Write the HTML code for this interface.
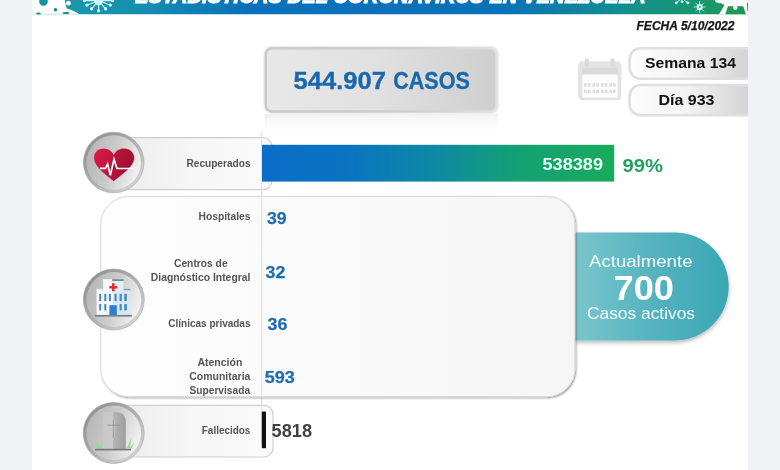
<!DOCTYPE html>
<html lang="es">
<head>
<meta charset="utf-8">
<title>Estadísticas del Coronavirus en Venezuela</title>
<style>
html,body{margin:0;padding:0;background:#f0f2f5;}
body{width:780px;height:470px;overflow:hidden;position:relative;font-family:"Liberation Sans",sans-serif;}
svg{display:block;position:absolute;left:0;top:0}
text{font-family:"Liberation Sans",sans-serif;}
.b{font-weight:bold}
.lab{font-weight:bold;font-size:10.8px;fill:#555}
.num{font-weight:bold;font-size:17px;fill:#1c6db1;stroke:#1c6db1;stroke-width:0.25px}
</style>
</head>
<body>
<svg width="780" height="470" viewBox="0 0 780 470">
<defs>
  <linearGradient id="gBanner" x1="0" x2="1" y1="0" y2="0">
    <stop offset="0" stop-color="#1c9aa8"/>
    <stop offset="0.14" stop-color="#1690ad"/>
    <stop offset="0.3" stop-color="#0a70bb"/>
    <stop offset="0.66" stop-color="#0a72b8"/>
    <stop offset="0.83" stop-color="#12908f"/>
    <stop offset="1" stop-color="#1d9a55"/>
  </linearGradient>
  <linearGradient id="gBox" x1="0" x2="1" y1="0" y2="0">
    <stop offset="0" stop-color="#e8e8e8"/>
    <stop offset="0.5" stop-color="#e0e0e0"/>
    <stop offset="1" stop-color="#cfcfcf"/>
  </linearGradient>
  <linearGradient id="gBoxS" x1="0" x2="1" y1="0" y2="0">
    <stop offset="0" stop-color="#c9c9c9"/>
    <stop offset="0.6" stop-color="#cecece"/>
    <stop offset="1" stop-color="#e0e0e0"/>
  </linearGradient>
  <linearGradient id="gRefl" x1="0" x2="0" y1="0" y2="1">
    <stop offset="0" stop-color="#e6e6e6" stop-opacity="0.55"/>
    <stop offset="1" stop-color="#ffffff" stop-opacity="0"/>
  </linearGradient>
  <linearGradient id="gPill" x1="0" x2="1" y1="0" y2="0">
    <stop offset="0" stop-color="#fdfdfd"/>
    <stop offset="0.4" stop-color="#f5f5f5"/>
    <stop offset="0.91" stop-color="#d4d4d4"/>
    <stop offset="1" stop-color="#d0d0d0"/>
  </linearGradient>
  <linearGradient id="gRow" x1="0" x2="1" y1="0" y2="0">
    <stop offset="0" stop-color="#ececec"/>
    <stop offset="0.5" stop-color="#f6f6f6"/>
    <stop offset="1" stop-color="#fbfbfb"/>
  </linearGradient>
  <linearGradient id="gBar" x1="0" x2="1" y1="0" y2="0">
    <stop offset="0" stop-color="#0a6dc8"/>
    <stop offset="0.25" stop-color="#0a74c1"/>
    <stop offset="0.5" stop-color="#0e8aa2"/>
    <stop offset="0.72" stop-color="#14a074"/>
    <stop offset="1" stop-color="#19ab5c"/>
  </linearGradient>
  <linearGradient id="gTeal" x1="0" x2="1" y1="0" y2="0">
    <stop offset="0" stop-color="#79c6cd"/>
    <stop offset="0.5" stop-color="#55b3bf"/>
    <stop offset="1" stop-color="#3aa6b4"/>
  </linearGradient>
  <linearGradient id="gRing" x1="0" x2="1" y1="0" y2="1">
    <stop offset="0" stop-color="#888888"/>
    <stop offset="0.45" stop-color="#a9a9a9"/>
    <stop offset="1" stop-color="#dedede"/>
  </linearGradient>
  <linearGradient id="gDisc" x1="0" x2="1" y1="0.35" y2="0.65">
    <stop offset="0" stop-color="#b6b6b6"/>
    <stop offset="0.48" stop-color="#cbcbcb"/>
    <stop offset="1" stop-color="#f4f4f4"/>
  </linearGradient>
  <linearGradient id="gHeart" x1="0" x2="1" y1="0" y2="0.3">
    <stop offset="0" stop-color="#e0184a"/>
    <stop offset="1" stop-color="#9c1030"/>
  </linearGradient>
  <linearGradient id="gStone" x1="0" x2="1" y1="0" y2="0">
    <stop offset="0" stop-color="#b6b6b6"/>
    <stop offset="1" stop-color="#9e9e9e"/>
  </linearGradient>
  <linearGradient id="gPanel" x1="0" x2="1" y1="0" y2="0">
    <stop offset="0" stop-color="#fefefe"/>
    <stop offset="0.5" stop-color="#fafafa"/>
    <stop offset="1" stop-color="#f5f5f5"/>
  </linearGradient>
  <filter id="sh" x="-10%" y="-10%" width="120%" height="125%">
    <feGaussianBlur in="SourceAlpha" stdDeviation="1.1"/>
    <feOffset dx="1.2" dy="1.2"/>
    <feComponentTransfer><feFuncA type="linear" slope="0.42"/></feComponentTransfer>
    <feMerge><feMergeNode/><feMergeNode in="SourceGraphic"/></feMerge>
  </filter>
  <filter id="sh2" x="-10%" y="-10%" width="120%" height="130%">
    <feGaussianBlur in="SourceAlpha" stdDeviation="2"/>
    <feOffset dx="0" dy="2"/>
    <feComponentTransfer><feFuncA type="linear" slope="0.3"/></feComponentTransfer>
    <feMerge><feMergeNode/><feMergeNode in="SourceGraphic"/></feMerge>
  </filter>
  <clipPath id="clipMain"><rect x="32" y="0" width="716" height="470"/></clipPath>
  <clipPath id="clipBanner"><rect x="32" y="0" width="716" height="14.5"/></clipPath>
</defs>

<rect x="0" y="0" width="780" height="470" fill="#f0f2f5"/>
<rect x="32" y="0" width="716" height="470" fill="#ffffff"/>

<g clip-path="url(#clipMain)">
<!-- banner -->
<g id="banner" clip-path="url(#clipBanner)">
  <rect x="32" y="0" width="716" height="14.5" fill="url(#gBanner)"/>
  <text x="135" y="3.0" class="b" font-style="italic" font-size="20" fill="#fff" stroke="#fff" stroke-width="1" textLength="510.5" lengthAdjust="spacingAndGlyphs">ESTADÍSTICAS DEL CORONAVIRUS EN VENEZUELA</text>
  <!-- left virus blob -->
  <path d="M32 0 H64.8 C65.4 3 66 6 66.6 8.4 C70 9.4 74 11 78.2 13.2 V14.5 H32 Z" fill="#fff"/><circle cx="68.4" cy="3.2" r="2.4" fill="#fff"/><circle cx="73" cy="12.4" r="1.6" fill="#fff"/>
  <circle cx="43.5" cy="1.5" r="4.3" fill="#10969c"/>
  <circle cx="55.5" cy="9.8" r="1.7" fill="#1b8a80"/>
  <ellipse cx="38.5" cy="13.6" rx="2.4" ry="1.2" fill="#1b8a80"/>
  <ellipse cx="66" cy="13" rx="3.5" ry="1" fill="#1b8a80"/>
  <!-- small virus -->
  <g stroke="#c9f6f8" stroke-width="1.2" fill="#c9f6f8" stroke-linecap="round">
    <circle cx="98.6" cy="0.6" r="4.7" stroke="none"/>
    <path d="M98.6 0.6 L98.6 10.6 M98.6 0.6 L105.4 8.6 M98.6 0.6 L91.8 8.6 M98.6 0.6 L110 5 M98.6 0.6 L87.2 5 M98.6 0.6 L112.4 0.6 M98.6 0.6 L84.8 0.6" fill="none"/>
    <circle cx="98.6" cy="10.8" r="1.1"/><circle cx="105.6" cy="8.8" r="1.1"/><circle cx="91.6" cy="8.8" r="1.1"/>
    <circle cx="110.3" cy="5.1" r="1.1"/><circle cx="86.9" cy="5.1" r="1.1"/><circle cx="112.6" cy="0.6" r="1.1"/><circle cx="84.6" cy="0.6" r="1.1"/>
  </g>
  <!-- right virus shapes -->
  <g stroke="#c9f6f8" stroke-width="1" fill="#c9f6f8" stroke-linecap="round">
    <path d="M679.8 0 L676.4 2.6 M682 0 V1.6 M684.2 0 L687.6 2.6" fill="none"/>
    <circle cx="676.2" cy="2.8" r="1"/><circle cx="682" cy="1.8" r="0.9"/><circle cx="687.8" cy="2.8" r="1"/>
    <circle cx="699.7" cy="7" r="3.1" stroke="none"/>
    <path d="M699.7 1.4 V12.6 M694.1 7 H705.3 M695.7 3 L703.7 11 M703.7 3 L695.7 11" fill="none" stroke-width="0.8"/>
    <circle cx="699.7" cy="7" r="1" fill="#3aa890" stroke="none"/>
  </g>
  <path d="M714.6 0 C715.4 2.2 718 3.6 720.6 3 L724.4 5 L719 14.5 H748 V0 Z" fill="#fff"/>
  <path d="M728 6.2 H743.2 L746 14.5 H725.2 Z" fill="#1d9751"/>
  <circle cx="735.3" cy="7.8" r="2.2" fill="#fff"/>
  <path d="M746.9 3 L748 2.4 V11.2 H747.4 Z" fill="#1d9751"/>
</g>

<!-- FECHA -->
<text x="636.5" y="30" class="b" font-style="italic" font-size="12.5" fill="#151515" stroke="#151515" stroke-width="0.25" textLength="98" lengthAdjust="spacingAndGlyphs">FECHA 5/10/2022</text>

<!-- casos box -->
<g id="casos">
  <rect x="264.6" y="114" width="233" height="20" fill="url(#gRefl)"/><rect x="264.6" y="114" width="2.2" height="18" fill="url(#gRefl)"/><rect x="495.4" y="114" width="2.2" height="18" fill="url(#gRefl)"/>
  <rect x="263.2" y="45.8" width="236" height="68.4" rx="8" fill="#efefef"/>
  <rect x="265.8" y="48.3" width="230.6" height="63.2" rx="6" fill="url(#gBox)" stroke="url(#gBoxS)" stroke-width="2.4"/>
  <text y="89.3" class="b" font-size="24" fill="#1968ae" stroke="#1968ae" stroke-width="0.35"><tspan x="293.6" textLength="92.4" lengthAdjust="spacingAndGlyphs">544.907</tspan> <tspan x="393.2" textLength="76.6" lengthAdjust="spacingAndGlyphs">CASOS</tspan></text>
</g>

<!-- calendar -->
<g id="cal">
  <rect x="578.1" y="61.3" width="43.3" height="39" rx="4.5" fill="#e3e3e3"/>
  <rect x="584.6" y="58.2" width="4.4" height="9" rx="1.8" fill="#dcdcdc"/>
  <rect x="610.2" y="58.2" width="4.4" height="9" rx="1.8" fill="#dcdcdc"/>
  <rect x="581.6" y="67.8" width="36.6" height="6.2" fill="#d9d9d9"/>
  <rect x="582.3" y="74.7" width="35.3" height="22.9" fill="#fcfcfc"/>
  <g fill="#dedede">
    <rect x="584" y="83.2" width="2.8" height="3.4"/><rect x="587.8" y="83.2" width="2.8" height="3.4"/><rect x="592.4" y="83.2" width="2.8" height="3.4"/><rect x="596.2" y="83.2" width="2.8" height="3.4"/><rect x="600.8" y="83.2" width="2.8" height="3.4"/><rect x="604.6" y="83.2" width="2.8" height="3.4"/><rect x="609.2" y="83.2" width="2.8" height="3.4"/><rect x="613" y="83.2" width="2.8" height="3.4"/>
    <rect x="584" y="89.8" width="2.8" height="3.4"/><rect x="587.8" y="89.8" width="2.8" height="3.4"/><rect x="592.4" y="89.8" width="2.8" height="3.4"/><rect x="596.2" y="89.8" width="2.8" height="3.4"/><rect x="600.8" y="89.8" width="2.8" height="3.4"/><rect x="604.6" y="89.8" width="2.8" height="3.4"/><rect x="609.2" y="89.8" width="2.8" height="3.4"/><rect x="613" y="89.8" width="2.8" height="3.4"/>
  </g>
</g>

<!-- pills semana / dia -->
<g id="pills">
  <rect x="629.6" y="48.2" width="130" height="30.6" rx="11" fill="url(#gPill)" stroke="#dfdfdf" stroke-width="2.6"/>
  <rect x="629.6" y="85" width="130" height="30.2" rx="11" fill="url(#gPill)" stroke="#dfdfdf" stroke-width="2.6"/>
  <text x="645" y="67.8" class="b" font-size="15.5" fill="#111" textLength="91" lengthAdjust="spacingAndGlyphs">Semana 134</text>
  <text x="658.5" y="104.8" class="b" font-size="15.5" fill="#111" textLength="56" lengthAdjust="spacingAndGlyphs">Día 933</text>
</g>

<!-- axis line -->
<rect x="261.3" y="132" width="1" height="312" fill="#d9d9d9"/>

<!-- recuperados row -->
<g id="rowRec">
  <path d="M114 137.6 H263 a9 9 0 0 1 9 9 V180.6 a9 9 0 0 1 -9 9 H114 Z" fill="url(#gRow)" stroke="#cfcfcf" stroke-width="1.2"/>
  <rect x="261.3" y="138.4" width="1" height="50.4" fill="#dcdcdc"/>
  <rect x="262" y="144.8" width="352.2" height="36.8" fill="url(#gBar)"/>
  <text x="186.5" y="167" class="lab" textLength="64" lengthAdjust="spacingAndGlyphs">Recuperados</text>
  <text x="542.5" y="170.4" class="b" font-size="16.3" fill="#e9fff3" textLength="60.5" lengthAdjust="spacingAndGlyphs">538389</text>
  <text x="622.5" y="171.6" class="b" font-size="19.2" fill="#1fa25c" textLength="40.5" lengthAdjust="spacingAndGlyphs">99%</text>
</g>

<!-- teal callout -->
<g id="teal">
  <path d="M575 232.5 H674.7 a54 54 0 0 1 0 108 H575 Z" fill="url(#gTeal)" filter="url(#sh2)"/>
  <text x="589" y="266.5" font-size="16.6" fill="#f2fbfc" textLength="103.5" lengthAdjust="spacingAndGlyphs">Actualmente</text>
  <text x="613.5" y="300.2" class="b" font-size="34.8" fill="#fdffff" textLength="60.5" lengthAdjust="spacingAndGlyphs">700</text>
  <text x="587" y="319" font-size="16.6" fill="#f2fbfc" textLength="108" lengthAdjust="spacingAndGlyphs">Casos activos</text>
</g>

<!-- big panel -->
<g id="panel">
  <rect x="100.8" y="196.6" width="474" height="200" rx="28" fill="url(#gPanel)" stroke="#dadada" stroke-width="1" filter="url(#sh)"/>
  <rect x="261.3" y="197.4" width="1" height="198.6" fill="#dedede"/>
  <text x="198.5" y="220.4" class="lab" textLength="52" lengthAdjust="spacingAndGlyphs">Hospitales</text>
  <text x="267" y="224.2" class="num" textLength="19.6" lengthAdjust="spacingAndGlyphs">39</text>
  <text x="174" y="266.8" class="lab" textLength="53.6" lengthAdjust="spacingAndGlyphs">Centros de</text>
  <text x="150.8" y="281" class="lab" textLength="99.6" lengthAdjust="spacingAndGlyphs">Diagnóstico Integral</text>
  <text x="265.6" y="277.7" class="num" textLength="19.8" lengthAdjust="spacingAndGlyphs">32</text>
  <text x="168.3" y="327.2" class="lab" textLength="82.2" lengthAdjust="spacingAndGlyphs">Clínicas privadas</text>
  <text x="267.6" y="329.9" class="num" textLength="19.8" lengthAdjust="spacingAndGlyphs">36</text>
  <text x="197.4" y="365.7" class="lab" textLength="45" lengthAdjust="spacingAndGlyphs">Atención</text>
  <text x="189.2" y="379.9" class="lab" textLength="61.2" lengthAdjust="spacingAndGlyphs">Comunitaria</text>
  <text x="189.5" y="394" class="lab" textLength="60.6" lengthAdjust="spacingAndGlyphs">Supervisada</text>
  <text x="264.8" y="382.5" class="num" textLength="30" lengthAdjust="spacingAndGlyphs">593</text>
</g>


<!-- fallecidos row -->
<g id="rowFal">
  <path d="M114 405.4 H264 a9 9 0 0 1 9 9 V448 a9 9 0 0 1 -9 9 H114 Z" fill="url(#gRow)" stroke="#cfcfcf" stroke-width="1.2"/>
  <rect x="261.3" y="406" width="1" height="38" fill="#dcdcdc"/>
  <rect x="261.8" y="411.6" width="4.2" height="36.6" fill="#111"/>
  <text x="201.8" y="433.6" class="lab" textLength="48.6" lengthAdjust="spacingAndGlyphs">Fallecidos</text>
  <text x="271.6" y="437.2" class="b" font-size="17.5" fill="#424242" textLength="40.4" lengthAdjust="spacingAndGlyphs">5818</text>
</g>

<!-- icon circles -->
<g id="icoHeart">
  <circle cx="113.7" cy="162.5" r="30.3" fill="url(#gRing)" stroke="#a6a6a6" stroke-width="0.6"/>
  <circle cx="113.7" cy="162.5" r="27.2" fill="url(#gDisc)"/>
  <path d="M113.7 181.5 C108 176.4 94 167.2 93.7 158.4 C93.5 152.2 98 148.3 103.4 148.3 C108 148.3 112 150.8 113.7 154.6 C115.4 150.8 119.4 148.3 124 148.3 C129.6 148.3 134.6 152.2 134.4 158.4 C134 167.2 119.4 176.4 113.7 181.5 Z" fill="url(#gHeart)" stroke="#f3c4cf" stroke-width="0.5"/>
  <path d="M100 168.3 H105.4 L107.6 163.9 L110.3 175.2 L114 159.2 L117 168.5 H134.4" fill="none" stroke="#fff" stroke-width="1.7" stroke-linejoin="miter"/>
</g>

<g id="icoHosp">
  <circle cx="113.8" cy="299.5" r="30.5" fill="url(#gRing)" stroke="#a6a6a6" stroke-width="0.6"/>
  <circle cx="113.8" cy="299.5" r="27.4" fill="url(#gDisc)"/>
  <rect x="102.8" y="279.2" width="9.4" height="1.9" fill="#f3f7fb"/>
  <rect x="112.2" y="279.2" width="11.5" height="1.9" fill="#6f8fa9"/>
  <rect x="103.2" y="281" width="10.2" height="12" fill="#fafcfe"/>
  <rect x="113.4" y="281" width="10" height="12" fill="#e3eef8"/>
  <rect x="96.3" y="288.8" width="6.5" height="1.6" fill="#e9f1f8"/>
  <rect x="123.7" y="288.8" width="6.6" height="1.6" fill="#7c9bb5"/>
  <rect x="96.6" y="290.4" width="16.8" height="24.6" fill="#f5f9fd"/>
  <rect x="113.4" y="290.4" width="16.6" height="24.6" fill="#d6e7f5"/>
  <path d="M112 283.3 h2.6 v2.7 h2.7 v2.6 h-2.7 v2.7 h-2.6 v-2.7 h-2.7 v-2.6 h2.7 Z" fill="#de3029"/>
  <g fill="#4289ba">
    <rect x="99.2" y="293.9" width="2" height="7.2"/><rect x="104.3" y="293.9" width="2" height="7.2"/><rect x="108.9" y="293.9" width="2" height="7.2"/><rect x="114.5" y="293.9" width="2.1" height="7.2"/><rect x="119.6" y="293.9" width="2.1" height="7.2"/><rect x="124.3" y="293.9" width="2.5" height="7.2"/>
    <rect x="99.2" y="304.1" width="2" height="6.3"/><rect x="104.3" y="304.1" width="2" height="6.3"/><rect x="119.6" y="304.1" width="2.1" height="6.3"/><rect x="124.3" y="304.1" width="2.5" height="6.3"/>
  </g>
  <rect x="109.4" y="305.2" width="7.4" height="9.8" fill="#2f7dcc"/>
  <rect x="94.6" y="314.9" width="37.3" height="1.7" fill="#6d8384"/>
</g>

<g id="icoGrave">
  <circle cx="113.7" cy="433" r="30.5" fill="url(#gRing)" stroke="#a6a6a6" stroke-width="0.6"/>
  <circle cx="113.7" cy="433" r="27.4" fill="url(#gDisc)"/>
  <path d="M103.2 449.3 V414 C103.2 412.6 104 411.9 105.2 411.9 H113.2 V449.3 Z" fill="#c9c9c9" fill-opacity="0.8"/>
  <path d="M113 411.9 H116.4 C122 411.9 125.8 416 125.8 422 V449.3 H113 Z" fill="url(#gStone)"/>
  <path d="M114.1 420 V438" stroke="#dcdcdc" stroke-width="0.7" fill="none"/><path d="M113.4 420 V438 M107.6 425.2 H119.8" stroke="#8a8a8a" stroke-width="0.7" fill="none"/>
  <path d="M96 448.6 L97.2 439.5 L100 448.6 Z M98.5 448.6 L101.5 443 L101.8 448.6 Z" fill="#93d79f"/>
  <path d="M127 448.6 L131.2 437.6 L130 448.6 Z M129.5 448.6 L134 442.4 L132 448.6 Z" fill="#93d79f"/>
  <rect x="95" y="448.8" width="36" height="1.6" fill="#757575"/>
</g>

</g>
</svg>
</body>
</html>
